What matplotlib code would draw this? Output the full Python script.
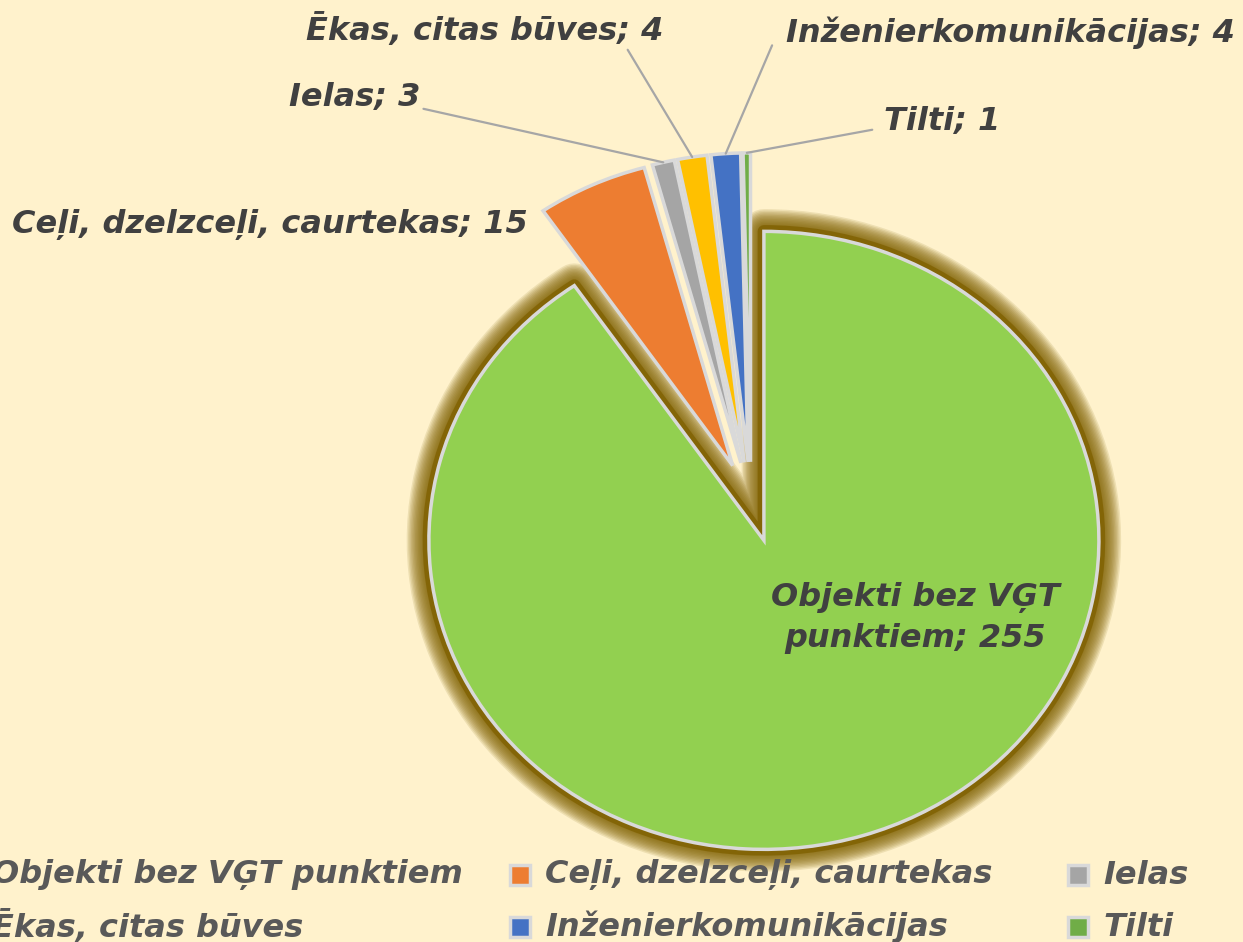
import matplotlib.pyplot as plt
from matplotlib.patches import Wedge, Rectangle
import numpy as np

# data
categories = ["Objekti bez VĢT punktiem", "Ceļi, dzelzceļi, caurtekas", "Ielas",
              "Ēkas, citas būves", "Inženierkomunikācijas", "Tilti"]
values = [255, 15, 3, 4, 4, 1]
colors = ["#92D050", "#ED7D31", "#A5A5A5", "#FFC000", "#4472C4", "#70AD47"]

bg = "#FFF2CC"
W, H = 1243, 942
cx, cy, rx, ry = 751, 502, 335, 309   # pie centre / radii in pixels


def px(x, y):
    # image pixel (from top-left) -> data coords
    return ((x - cx) / rx, (cy - y) / ry)


fig = plt.figure(figsize=(W / 100, H / 100), dpi=100, facecolor=bg)
ax = fig.add_axes([0, 0, 1, 1], facecolor=bg)

wedges, _ = ax.pie(values, colors=colors, startangle=90, counterclock=False,
                   explode=[0.13] * len(values),
                   wedgeprops=dict(edgecolor="#D9D9D9", linewidth=2.5))
ax.set_aspect("auto")
ax.set_xlim(-cx / rx, (W - cx) / rx)
ax.set_ylim((cy - H) / ry, cy / ry)
ax.axis("off")

# soft dark glow round the big slice
g = wedges[0]
for lw in range(32, 8, -2):
    ax.add_patch(Wedge(g.center, g.r, g.theta1, g.theta2, facecolor="none",
                       edgecolor="#7F6000", lw=lw, alpha=0.13, zorder=0.5,
                       joinstyle="round"))
ax.add_patch(Wedge(g.center, g.r, g.theta1, g.theta2, facecolor="none",
                   edgecolor="#7F6000", lw=9, alpha=0.8, zorder=0.5,
                   joinstyle="round"))

FS = 23
font = dict(fontsize=FS, fontweight="bold", fontstyle="italic", color="#404040")


def edge_point(w):
    t = np.deg2rad((w.theta1 + w.theta2) / 2)
    return (w.center[0] + w.r * np.cos(t), w.center[1] + w.r * np.sin(t))


# labels: (index, text position in px, leader start on text)
label_pos = {
    1: ((270, 225), None),
    2: ((355, 97), (1.02, 0.12)),
    3: ((485, 30), (0.89, 0.08)),
    4: ((1010, 33), (-0.03, 0.12)),
    5: ((942, 122), (-0.1, 0.25)),
}
for i, (pos, rel) in label_pos.items():
    txt = f"{categories[i]}; {values[i]}"
    if rel is None:
        ax.text(*px(*pos), txt, ha="center", va="center", **font)
    else:
        ax.annotate(txt, xy=edge_point(wedges[i]), xytext=px(*pos),
                    ha="center", va="center", **font,
                    arrowprops=dict(arrowstyle="-", color="#A6A6A6", lw=1.6,
                                    relpos=rel, shrinkA=0, shrinkB=0))

ax.text(*px(915, 618), f"Objekti bez VĢT\npunktiem; {values[0]}",
        ha="center", va="center", linespacing=1.45, **font)

# legend drawn by hand to allow clipping at left edge
col_x = [-8, 545, 1103]
row_y = [875, 927]
for i, lab in enumerate(categories):
    tx = col_x[i % 3]
    ty = row_y[i // 3]
    x0, y0 = px(tx - 35, ty + 10)
    x1, y1 = px(tx - 15, ty - 10)
    ax.add_patch(Rectangle((x0, y0), x1 - x0, y1 - y0, facecolor=colors[i],
                           edgecolor="#D9D9D9", lw=2.5))
    ax.text(*px(tx, ty), lab, ha="left", va="center", fontsize=FS,
            fontweight="bold", fontstyle="italic", color="#595959")

fig.savefig("out.png", dpi=100, facecolor=bg)
